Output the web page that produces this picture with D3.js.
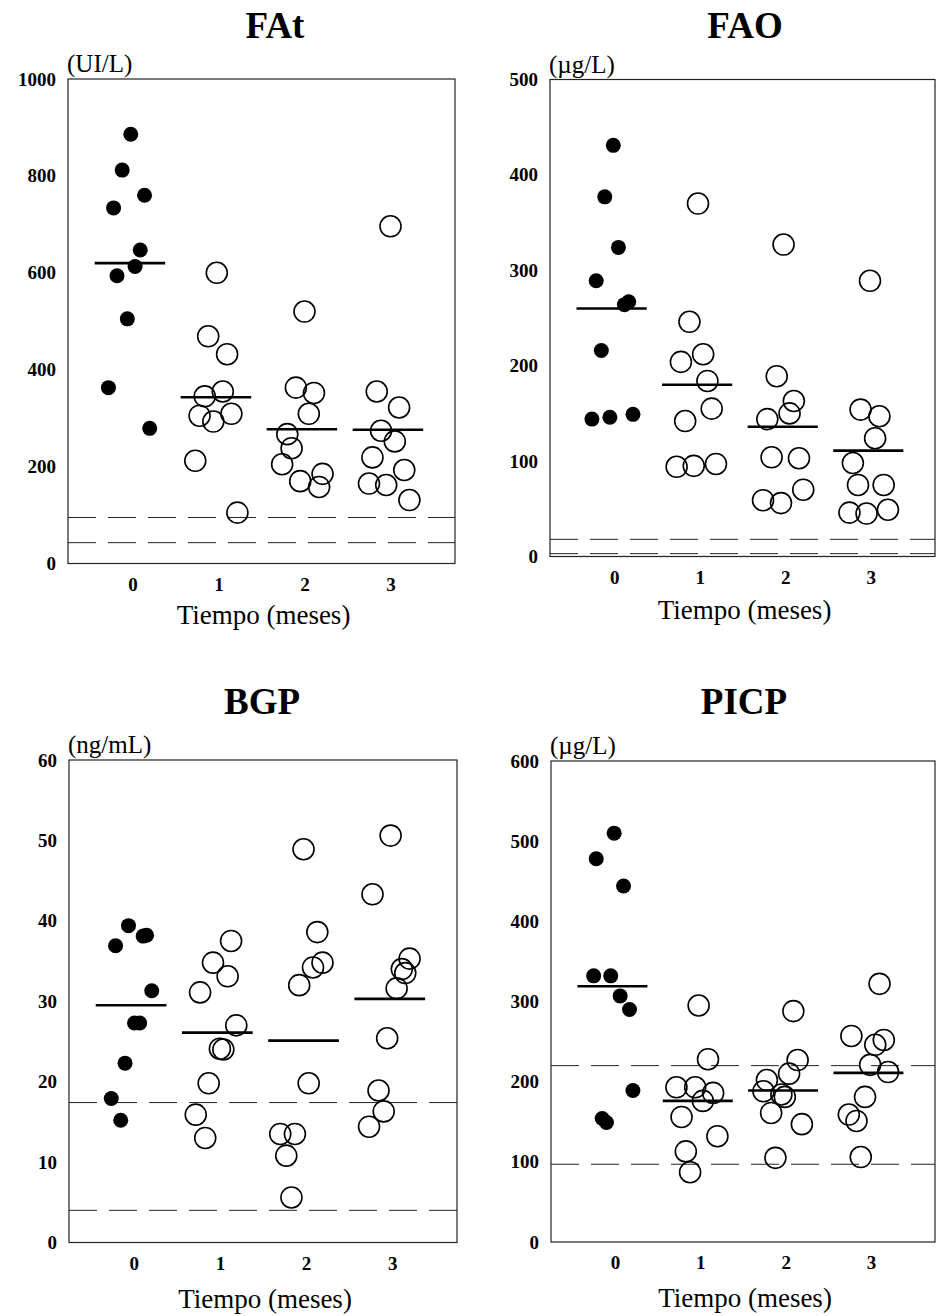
<!DOCTYPE html>
<html><head><meta charset="utf-8">
<script src="https://cdn.jsdelivr.net/npm/d3@7"></script>
<style>
html,body{margin:0;padding:0;background:#fff;}
svg{display:block;}
</style></head>
<body>
<script>
// ---------- DATA ----------
const timeGroups = [0, 1, 2, 3];
const xTickLabels = ["0", "1", "2", "3"];
const xAxisTitle = "Tiempo (meses)";

// FAt (UI/L)
const fatValues = [
  [886, 812, 760, 734, 647, 613, 594, 505, 363, 279],
  [600, 469, 432, 345, 355, 305, 293, 309, 212, 105],
  [520, 363, 352, 309, 267, 238, 205, 185, 170, 158],
  [696, 355, 322, 274, 252, 219, 193, 165, 162, 131]
];
const fatJitter = [
  [-0.02, -0.12, 0.14, -0.22, 0.09, 0.03, -0.18, -0.06, -0.28, 0.20],
  [-0.02, -0.12, 0.10, -0.16, 0.05, -0.22, -0.06, 0.15, -0.27, 0.22],
  [0.00, -0.10, 0.11, 0.05, -0.20, -0.15, -0.26, 0.21, -0.05, 0.17],
  [0.00, -0.16, 0.10, -0.11, 0.05, -0.21, 0.16, -0.25, -0.05, 0.22]
];
const fatMeans = [620, 343, 277, 276];
const fatRefs = [95, 43];
const fatTicks = [0, 200, 400, 600, 800, 1000];

// FAO (µg/L)
const faoValues = [
  [431, 377, 324, 289, 267, 264, 216, 144, 146, 149],
  [370, 246, 212, 204, 184, 155, 142, 94, 95, 97],
  [327, 189, 163, 150, 144, 104, 103, 70, 59, 56],
  [289, 154, 147, 124, 98, 75, 75, 46, 45, 49]
];
const faoJitter = [
  [-0.01, -0.11, 0.05, -0.21, 0.17, 0.12, -0.15, -0.26, -0.05, 0.22],
  [-0.02, -0.12, 0.04, -0.22, 0.09, 0.14, -0.17, -0.27, -0.07, 0.19],
  [-0.02, -0.10, 0.10, 0.05, -0.21, -0.16, 0.16, 0.21, -0.26, -0.05],
  [-0.01, -0.12, 0.10, 0.05, -0.21, -0.15, 0.15, -0.25, -0.05, 0.20]
];
const faoMeans = [260, 180, 136, 111];
const faoRefs = [18, 3];
const faoTicks = [0, 100, 200, 300, 400, 500];

// BGP (ng/mL)
const bgpValues = [
  [39.4, 36.9, 38.1, 38.2, 31.3, 27.3, 27.3, 22.3, 17.9, 15.2],
  [37.5, 34.8, 33.1, 31.1, 27.0, 24.1, 24.0, 19.8, 15.9, 13.0],
  [48.9, 38.6, 34.8, 34.2, 32.0, 19.8, 13.5, 13.5, 10.8, 5.6],
  [50.6, 43.3, 35.3, 34.0, 33.5, 31.6, 25.4, 18.9, 16.3, 14.4]
];
const bgpJitter = [
  [-0.06, -0.21, 0.11, 0.15, 0.21, 0.01, 0.07, -0.10, -0.26, -0.15],
  [0.13, -0.08, 0.09, -0.23, 0.19, 0.00, 0.04, -0.13, -0.28, -0.17],
  [-0.03, 0.13, 0.19, 0.08, -0.08, 0.03, -0.30, -0.13, -0.23, -0.17],
  [-0.02, -0.23, 0.20, 0.11, 0.15, 0.05, -0.06, -0.16, -0.10, -0.27]
];
const bgpMeans = [29.5, 26.1, 25.1, 30.3];
const bgpRefs = [17.4, 4];
const bgpTicks = [0, 10, 20, 30, 40, 50, 60];

// PICP (µg/L)
const picpValues = [
  [510, 478, 444, 332, 332, 307, 290, 189, 154, 149],
  [295, 228, 193, 193, 186, 176, 156, 132, 113, 87],
  [288, 227, 210, 202, 188, 181, 184, 161, 147, 105],
  [322, 257, 252, 246, 221, 212, 181, 159, 151, 106]
];
const picpJitter = [
  [-0.01, -0.22, 0.10, -0.25, -0.05, 0.06, 0.17, 0.21, -0.15, -0.10],
  [-0.02, 0.09, -0.28, -0.06, 0.15, 0.03, -0.22, 0.20, -0.17, -0.12],
  [0.09, 0.14, 0.04, -0.22, -0.26, -0.01, -0.05, -0.17, 0.19, -0.12],
  [0.10, -0.23, 0.15, 0.05, -0.01, 0.20, -0.07, -0.26, -0.17, -0.12]
];
const picpMeans = [319, 176, 189, 211];
const picpRefs = [220, 97];
const picpTicks = [0, 100, 200, 300, 400, 500, 600];

// ---------- LAYOUT ----------
const W = 936, H = 1316;
const FONT = "'Liberation Serif', 'DejaVu Serif', serif";

const panels = [
  { title: "FAt", unit: "(UI/L)", values: fatValues, jitter: fatJitter, means: fatMeans, refs: fatRefs, ticks: fatTicks,
    box: { l: 68, r: 455, t: 79, b: 563.5 }, titleY: 38, titleX: 275, xTitleDy: 60 },
  { title: "FAO", unit: "(\u00b5g/L)", values: faoValues, jitter: faoJitter, means: faoMeans, refs: faoRefs, ticks: faoTicks,
    box: { l: 550, r: 935, t: 79.5, b: 556.5 }, titleY: 38, titleX: 745, xTitleDy: 62 },
  { title: "BGP", unit: "(ng/mL)", values: bgpValues, jitter: bgpJitter, means: bgpMeans, refs: bgpRefs, ticks: bgpTicks,
    box: { l: 69, r: 457, t: 760, b: 1242.5 }, titleY: 714, titleX: 262, xTitleDy: 65 },
  { title: "PICP", unit: "(\u00b5g/L)", values: picpValues, jitter: picpJitter, means: picpMeans, refs: picpRefs, ticks: picpTicks,
    box: { l: 551, r: 935, t: 761, b: 1242 }, titleY: 714, titleX: 744, xTitleDy: 65 }
];

const svg = d3.select("body").append("svg")
  .attr("width", W).attr("height", H)
  .attr("viewBox", `0 0 ${W} ${H}`);
svg.append("rect").attr("width", W).attr("height", H).attr("fill", "#fff");

panels.forEach(p => {
  const b = p.box;
  const x = d3.scaleLinear().domain([-0.75, 3.75]).range([b.l, b.r]);
  const y = d3.scaleLinear().domain([0, d3.max(p.ticks)]).range([b.b, b.t]);
  const g = svg.append("g");

  // title
  g.append("text").attr("x", p.titleX).attr("y", p.titleY)
    .attr("text-anchor", "middle").attr("font-family", FONT)
    .attr("font-weight", "bold").attr("font-size", 37).text(p.title);

  // unit
  g.append("text").attr("x", b.l - 1).attr("y", b.t - 7)
    .attr("font-family", FONT).attr("font-size", 25).text(p.unit);

  // reference dashed lines
  g.selectAll("line.ref").data(p.refs).enter().append("line")
    .attr("class", "ref")
    .attr("x1", b.l).attr("x2", b.r)
    .attr("y1", d => y(d)).attr("y2", d => y(d))
    .attr("stroke", "#222").attr("stroke-width", 1)
    .attr("stroke-dasharray", "28,12");

  // frame
  g.append("rect").attr("x", b.l).attr("y", b.t)
    .attr("width", b.r - b.l).attr("height", b.b - b.t)
    .attr("fill", "none").attr("stroke", "#222").attr("stroke-width", 1.2);

  // y axis
  const ya = g.append("g").attr("transform", `translate(${b.l},0)`)
    .call(d3.axisLeft(y).tickValues(p.ticks).tickSize(0).tickPadding(12).tickFormat(d3.format("d")));
  ya.select(".domain").remove();
  ya.selectAll("text").attr("font-family", FONT).attr("font-weight", "bold")
    .attr("font-size", 19).attr("fill", "#000");

  // x axis
  const xa = g.append("g").attr("transform", `translate(0,${b.b})`)
    .call(d3.axisBottom(x).tickValues(timeGroups).tickSize(0).tickPadding(14)
      .tickFormat((d, i) => xTickLabels[i]));
  xa.select(".domain").remove();
  xa.selectAll("text").attr("font-family", FONT).attr("font-weight", "bold")
    .attr("font-size", 19).attr("fill", "#000");

  // x title
  g.append("text").attr("x", (x(0) + x(3)) / 2 + 2).attr("y", b.b + p.xTitleDy)
    .attr("text-anchor", "middle").attr("font-family", FONT)
    .attr("font-size", 27).text(xAxisTitle);

  // points
  timeGroups.forEach((t, gi) => {
    const pts = p.values[gi].map((v, k) => ({ v, o: p.jitter[gi][k] }));
    g.selectAll(null).data(pts).enter().append("circle")
      .attr("cx", d => x(t + d.o)).attr("cy", d => y(d.v))
      .attr("r", gi === 0 ? 7.5 : 10.5)
      .attr("fill", gi === 0 ? "#000" : "none")
      .attr("stroke", "#000").attr("stroke-width", gi === 0 ? 0 : 1.6);
  });

  // mean lines
  g.selectAll("line.mean").data(p.means).enter().append("line")
    .attr("class", "mean")
    .attr("x1", (d, i) => x(timeGroups[i] - 0.44))
    .attr("x2", (d, i) => x(timeGroups[i] + 0.38))
    .attr("y1", d => y(d)).attr("y2", d => y(d))
    .attr("stroke", "#000").attr("stroke-width", 2.6);
});
</script>
</body></html>
